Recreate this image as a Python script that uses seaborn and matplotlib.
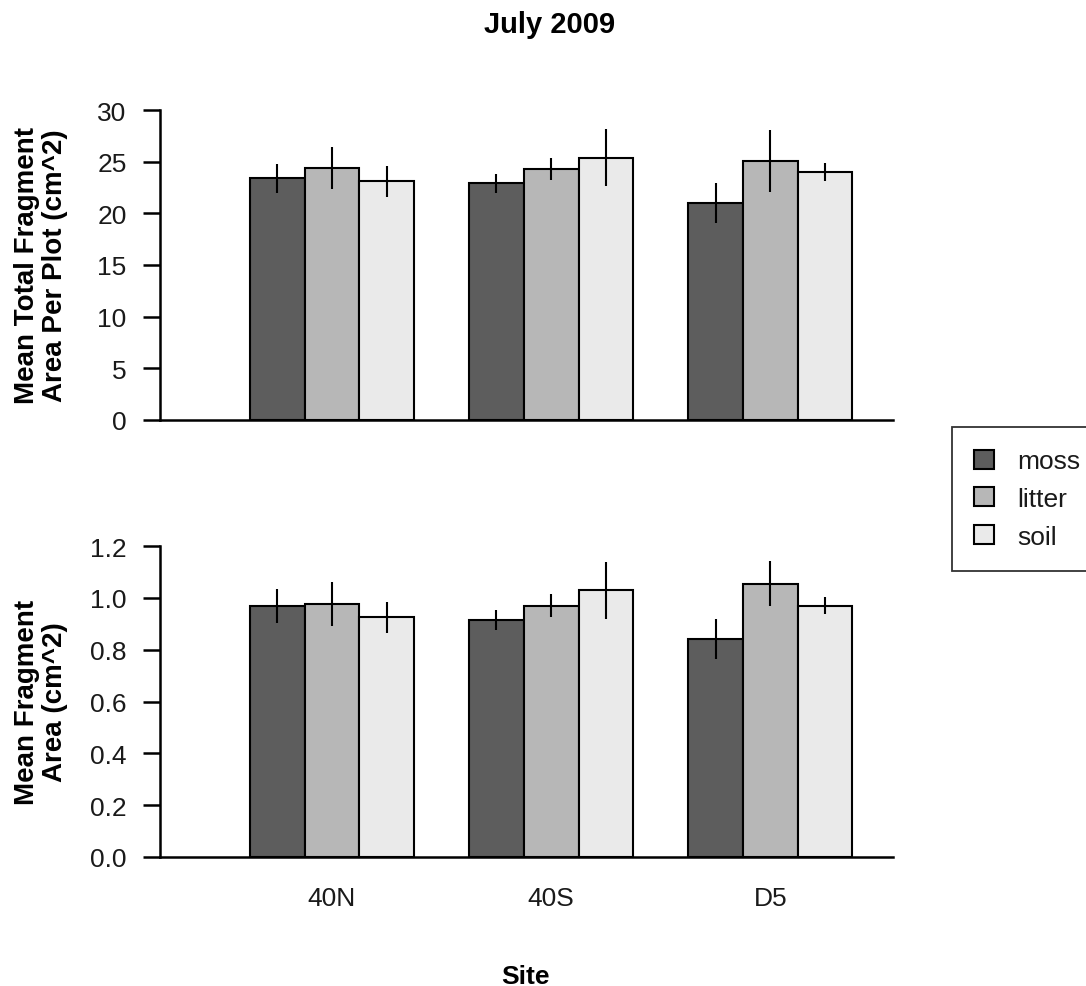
import numpy as np
import pandas as pd
import seaborn as sns
from matplotlib import pyplot as plt
from matplotlib.patches import Patch

# datos
sites = ['40N', '40S', 'D5']
substrates = ['moss', 'litter', 'soil']
colores = ['#5d5d5d', '#b7b7b7', '#eaeaea']

# panel superior: area total media de fragmentos por parcela
total_moss = [23.4, 22.9, 21.0]
total_litter = [24.4, 24.3, 25.1]
total_soil = [23.1, 25.4, 24.0]
total_err_moss = [1.4, 0.95, 1.9]
total_err_litter = [2.0, 1.05, 3.0]
total_err_soil = [1.5, 2.8, 0.9]

# panel inferior: area media de fragmento
frag_moss = [0.97, 0.915, 0.84]
frag_litter = [0.975, 0.97, 1.055]
frag_soil = [0.925, 1.03, 0.97]
frag_err_moss = [0.066, 0.039, 0.077]
frag_err_litter = [0.085, 0.044, 0.088]
frag_err_soil = [0.06, 0.11, 0.033]

FS = 19


def build_df(means, errs):
    filas = []
    for sub, m, e in zip(substrates, means, errs):
        for s, v, ev in zip(sites, m, e):
            filas.append({'site': s, 'substrate': sub, 'value': v, 'err': ev})
    return pd.DataFrame(filas)


def draw_panel(ax, df, ylim, yticks, ylabel, ticklabels):
    sns.barplot(data=df, x='site', y='value', hue='substrate', order=sites,
                hue_order=substrates, palette=colores, width=0.75, gap=0,
                edgecolor='black', linewidth=1.5, errorbar=None, saturation=1,
                legend=False, ax=ax)
    # barras de error a partir de la posicion de cada barra
    for sub, cont in zip(substrates, ax.containers):
        sub_df = df[df['substrate'] == sub].set_index('site')
        for bar in cont:
            xc = bar.get_x() + bar.get_width() / 2
            site = sites[int(round(xc))]
            ax.errorbar(xc, sub_df.loc[site, 'value'], yerr=sub_df.loc[site, 'err'],
                        fmt='none', ecolor='black', elinewidth=1.5, capsize=0)
    ax.set_xlim(-0.785, 2.56)
    ax.set_ylim(*ylim)
    ax.set_yticks(yticks)
    ax.set_ylabel(ylabel, fontsize=FS + 1, fontweight='bold', linespacing=1.1,
                  color='black')
    ax.yaxis.set_label_coords(-0.125, 0.5)
    ax.set_xlabel('')
    for side in ['top', 'right']:
        ax.spines[side].set_visible(False)
    ax.spines['left'].set_linewidth(1.8)
    ax.spines['bottom'].set_linewidth(1.8)
    ax.spines['left'].set_color('black')
    ax.spines['bottom'].set_color('black')
    ax.tick_params(axis='y', length=12, width=1.8, color='black', labelsize=FS,
                   pad=12, labelcolor='#1a1a1a')
    ax.tick_params(axis='x', length=0, labelsize=FS, pad=21, labelcolor='#1a1a1a')
    if not ticklabels:
        ax.set_xticklabels([])


sns.set_style('ticks')
plt.rcParams['font.family'] = ['Liberation Sans', 'DejaVu Sans']

fig = plt.figure(figsize=(10.86, 9.87), dpi=100)
ax1 = fig.add_axes([0.1473, 0.5735, 0.675, 0.314])
ax2 = fig.add_axes([0.1473, 0.1307, 0.675, 0.315])

df_total = build_df([total_moss, total_litter, total_soil],
                    [total_err_moss, total_err_litter, total_err_soil])
df_frag = build_df([frag_moss, frag_litter, frag_soil],
                   [frag_err_moss, frag_err_litter, frag_err_soil])

draw_panel(ax1, df_total, (0, 30), [0, 5, 10, 15, 20, 25, 30],
           'Mean Total Fragment\nArea Per Plot (cm^2)', False)
draw_panel(ax2, df_frag, (0, 1.2), [0.0, 0.2, 0.4, 0.6, 0.8, 1.0, 1.2],
           'Mean Fragment\nArea (cm^2)', True)
ax2.set_yticklabels([f'{t:.1f}' for t in [0.0, 0.2, 0.4, 0.6, 0.8, 1.0, 1.2]])

fig.text(0.5065, 0.9666, 'July 2009', ha='center', va='baseline', fontsize=FS + 2,
         fontweight='bold', color='black')
fig.text(0.4834, 0.003, 'Site', ha='center', va='baseline', fontsize=FS,
         fontweight='bold', color='black')

handles = [Patch(facecolor=c, edgecolor='black', linewidth=1.5, label=s)
           for c, s in zip(colores, substrates)]
leg = fig.legend(handles=handles, loc='upper left', bbox_to_anchor=(0.8766, 0.5664),
                 fontsize=FS, frameon=True, fancybox=False, edgecolor='black',
                 handlelength=0.76, handleheight=0.72, handletextpad=0.87,
                 labelspacing=0.52, borderpad=0.85, borderaxespad=0)
leg.get_frame().set_linewidth(1.3)
for t in leg.get_texts():
    t.set_color('#1a1a1a')

fig.savefig('out.png', dpi=100)
